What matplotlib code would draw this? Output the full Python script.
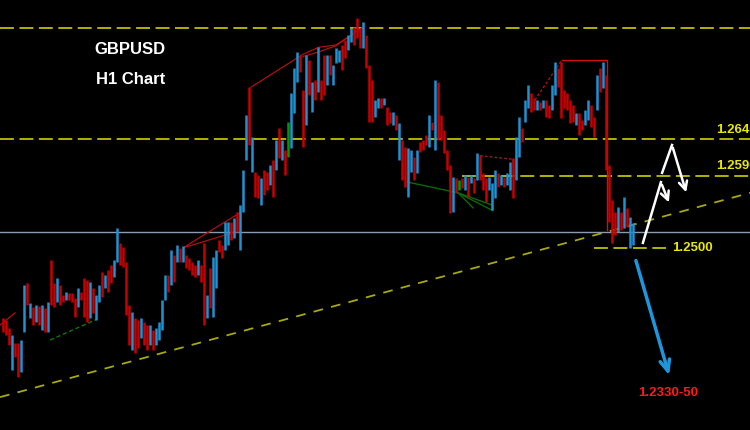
import matplotlib
matplotlib.use("Agg")
import matplotlib.pyplot as plt

plt.rcParams['lines.scale_dashes'] = False

# H1 bars (one entry per bar, oldest first)
highs = [1.2389, 1.2386, 1.2375, 1.2365, 1.2354, 1.2354, 1.2358, 1.2435, 1.2438, 1.2410,
         1.2404, 1.2407, 1.2406, 1.2407, 1.2403, 1.2411, 1.2470, 1.2438, 1.2445, 1.2435,
         1.2421, 1.2425, 1.2424, 1.2424, 1.2417, 1.2431, 1.2425, 1.2445, 1.2442, 1.2439,
         1.2431, 1.2421, 1.2435, 1.2453, 1.2449, 1.2456, 1.2463, 1.2470, 1.2515, 1.2494,
         1.2488, 1.2467, 1.2407, 1.2397, 1.2389, 1.2386, 1.2389, 1.2383, 1.2379, 1.2379,
         1.2372, 1.2375, 1.2383, 1.2414, 1.2449, 1.2449, 1.2484, 1.2477, 1.2491, 1.2487,
         1.2490, 1.2477, 1.2473, 1.2467, 1.2463, 1.2470, 1.2463, 1.2494, 1.2421, 1.2459,
         1.2474, 1.2484, 1.2498, 1.2491, 1.2523, 1.2523, 1.2523, 1.2529, 1.2537, 1.2547,
         1.2596, 1.2673, 1.2712, 1.2642, 1.2593, 1.2589, 1.2585, 1.2596, 1.2593, 1.2603,
         1.2610, 1.2638, 1.2655, 1.2638, 1.2624, 1.2663, 1.2704, 1.2739, 1.2761, 1.2757,
         1.2708, 1.2757, 1.2750, 1.2719, 1.2722, 1.2768, 1.2722, 1.2757, 1.2757, 1.2757,
         1.2743, 1.2767, 1.2764, 1.2771, 1.2778, 1.2785, 1.2795, 1.2796, 1.2809, 1.2795,
         1.2803, 1.2785, 1.2743, 1.2722, 1.2694, 1.2697, 1.2697, 1.2697, 1.2684, 1.2677,
         1.2677, 1.2673, 1.2662, 1.2638, 1.2628, 1.2627, 1.2624, 1.2614, 1.2624, 1.2635,
         1.2638, 1.2645, 1.2673, 1.2663, 1.2722, 1.2719, 1.2673, 1.2652, 1.2624, 1.2603,
         1.2586, 1.2585, 1.2582, 1.2585, 1.2589, 1.2586, 1.2589, 1.2585, 1.2620, 1.2617,
         1.2592, 1.2585, 1.2586, 1.2578, 1.2596, 1.2592, 1.2589, 1.2586, 1.2592, 1.2607,
         1.2613, 1.2642, 1.2670, 1.2655, 1.2694, 1.2715, 1.2704, 1.2697, 1.2694, 1.2691,
         1.2694, 1.2694, 1.2687, 1.2715, 1.2747, 1.2739, 1.2747, 1.2708, 1.2704, 1.2694,
         1.2687, 1.2676, 1.2676, 1.2666, 1.2680, 1.2694, 1.2687, 1.2670, 1.2729, 1.2739,
         1.2747, 1.2729, 1.2603, 1.2554, 1.2537, 1.2544, 1.2537, 1.2558, 1.2543, 1.2530,
         1.2522]
lows = [1.2369, 1.2365, 1.2351, 1.2316, 1.2334, 1.2306, 1.2313, 1.2369, 1.2407, 1.2389,
        1.2379, 1.2383, 1.2379, 1.2372, 1.2369, 1.2369, 1.2407, 1.2404, 1.2411, 1.2407,
        1.2411, 1.2414, 1.2414, 1.2411, 1.2390, 1.2404, 1.2414, 1.2390, 1.2383, 1.2389,
        1.2396, 1.2386, 1.2411, 1.2418, 1.2431, 1.2425, 1.2438, 1.2446, 1.2467, 1.2463,
        1.2460, 1.2393, 1.2351, 1.2344, 1.2340, 1.2347, 1.2361, 1.2351, 1.2344, 1.2351,
        1.2344, 1.2351, 1.2358, 1.2372, 1.2414, 1.2425, 1.2435, 1.2439, 1.2467, 1.2467,
        1.2467, 1.2459, 1.2456, 1.2449, 1.2446, 1.2449, 1.2439, 1.2379, 1.2389, 1.2403,
        1.2390, 1.2431, 1.2481, 1.2473, 1.2484, 1.2491, 1.2498, 1.2501, 1.2509, 1.2484,
        1.2537, 1.2610, 1.2631, 1.2593, 1.2558, 1.2557, 1.2547, 1.2561, 1.2568, 1.2575,
        1.2558, 1.2596, 1.2613, 1.2610, 1.2589, 1.2614, 1.2627, 1.2676, 1.2719, 1.2733,
        1.2628, 1.2659, 1.2701, 1.2677, 1.2694, 1.2705, 1.2694, 1.2701, 1.2715, 1.2729,
        1.2715, 1.2746, 1.2747, 1.2736, 1.2753, 1.2764, 1.2775, 1.2771, 1.2781, 1.2767,
        1.2767, 1.2739, 1.2663, 1.2663, 1.2670, 1.2683, 1.2683, 1.2687, 1.2659, 1.2662,
        1.2659, 1.2652, 1.2610, 1.2582, 1.2572, 1.2558, 1.2593, 1.2582, 1.2592, 1.2621,
        1.2624, 1.2631, 1.2628, 1.2652, 1.2624, 1.2638, 1.2638, 1.2620, 1.2596, 1.2536,
        1.2537, 1.2564, 1.2568, 1.2571, 1.2568, 1.2558, 1.2578, 1.2564, 1.2582, 1.2582,
        1.2568, 1.2551, 1.2568, 1.2540, 1.2557, 1.2572, 1.2575, 1.2572, 1.2575, 1.2568,
        1.2557, 1.2582, 1.2614, 1.2635, 1.2663, 1.2683, 1.2677, 1.2680, 1.2680, 1.2680,
        1.2683, 1.2670, 1.2669, 1.2680, 1.2701, 1.2712, 1.2669, 1.2683, 1.2680, 1.2662,
        1.2663, 1.2659, 1.2645, 1.2652, 1.2659, 1.2666, 1.2656, 1.2642, 1.2680, 1.2705,
        1.2711, 1.2596, 1.2523, 1.2494, 1.2505, 1.2509, 1.2512, 1.2515, 1.2516, 1.2487,
        1.2491]
direction = ("rrrbrrbbrb" "rbrbrbrrbr" "rbrrrbrrrb" "rbbrbrrbbr" "rrrbrrbrrb"
             "rbbbbrbrbr" "brrrrbrrbr" "bbrrbbrbrb" "bbrbrrbrrb" "rbrbrgbbbr"
             "rbrbrbrrbr" "bbbrrbbrrr" "brrrbbrbrr" "brbrrbbrbr" "rrbrbrrrrr"
             "brgrbrbrbr" "rrbbbrbrbb" "rbbrbbrrbr" "brrbbrrrrr" "rbrrbbrrbr"
             "brrrrbrbrbb")

colors = {"b": "#1f92d2", "r": "#c80000", "g": "#009a00"}

# levels and labels
top_level = 1.2795
lvl_2640 = 1.2639
lvl_2590 = 1.2588
grey_level = 1.2509
lvl_2500 = 1.2487
trend_x = [-1, 249]
trend_y = [1.2278, 1.2564]

fig = plt.figure(figsize=(7.5, 4.3), dpi=100, facecolor="black")
ax = fig.add_axes([0, 0, 1, 1])
ax.set_facecolor("black")
ax.set_xlim(-1, 249)
ax.set_ylim(1.2232, 1.2834)
ax.axis("off")

yellow = "#d0d000"
ax.axhline(top_level, color=yellow, lw=1.2, ls=(0, (10, 4)))
ax.axhline(lvl_2640, color=yellow, lw=1.2, ls=(0, (10, 4)))
ax.hlines(lvl_2590, 153, 249, color=yellow, lw=1.2, ls=(0, (10, 4)))
ax.axhline(grey_level, color="#8a9bb0", lw=1.0)
ax.hlines(lvl_2500, 197, 221, color=yellow, lw=1.2, ls=(0, (10, 4)))
ax.plot(trend_x, trend_y, color="#a8a810", lw=1.3, ls=(0, (7, 6)))

# pattern drawings
red_line = "#b01010"
ax.plot([-1, 4], [1.2379, 1.2396], color=red_line, lw=0.9)
ax.plot([79.3, 60, 77.3], [1.2537, 1.2487, 1.2509], color=red_line, lw=0.9)
ax.plot([82.7, 100, 105.3, 111, 119.7], [1.2712, 1.2758, 1.2768, 1.2771, 1.2795], color=red_line, lw=0.9)
ax.plot([100, 105, 111, 119.7], [1.2755, 1.2761, 1.2770, 1.2795], color=red_line, lw=0.9)
ax.plot([177.3, 186.3], [1.2694, 1.2750], color=red_line, lw=1.0, ls=(0, (2, 1.5)))
ax.plot([186.3, 201.3, 201.3], [1.2750, 1.2750, 1.2512], color="#d01010", lw=1.0)
ax.plot([159, 170, 170.3], [1.2616, 1.2611, 1.2590], color="#902020", lw=1.0, ls=(0, (2, 1.5)))
green_line = "#0a6a0a"
ax.plot([135, 151.7, 163.3], [1.2579, 1.2564, 1.2539], color=green_line, lw=1.0)
ax.plot([151.7, 156.7], [1.2564, 1.2543], color=green_line, lw=1.0)
ax.plot([151.7, 163], [1.2564, 1.2547], color=green_line, lw=1.0)
ax.plot([15.7, 31.3], [1.2358, 1.2387], color="#0a7a0a", lw=1.0, ls=(0, (3, 2)))

# candles
for i in range(len(highs)):
    ax.vlines(i, lows[i], highs[i], color=colors[direction[i]], lw=1.8)

# projected paths
ax.plot([213.3, 219.3], [1.2494, 1.2579], color="white", lw=1.8)
ax.annotate("", xy=(222.3, 1.2547), xytext=(219.3, 1.2579),
            arrowprops=dict(arrowstyle="->,head_length=0.6,head_width=0.3", color="white", lw=1.8))
ax.plot([219.7, 223], [1.2592, 1.2631], color="white", lw=1.8)
ax.annotate("", xy=(228, 1.2561), xytext=(223, 1.2631),
            arrowprops=dict(arrowstyle="->,head_length=0.6,head_width=0.3", color="white", lw=1.8))
ax.annotate("", xy=(222.3, 1.2305), xytext=(210.7, 1.2473),
            arrowprops=dict(arrowstyle="->,head_length=0.8,head_width=0.35", color="#1e96dc", lw=2.5))

font = "Liberation Sans"
ax.text(42.3, 1.2764, "GBPUSD", color="white", fontsize=12, fontweight="bold",
        family=font, ha="center", va="center")
ax.text(42.7, 1.2723, "H1 Chart", color="white", fontsize=12, fontweight="bold",
        family=font, ha="center", va="center")
ax.text(237.7, 1.2652, "1.2640", color="#e8e800", fontsize=9.5, fontweight="bold",
        family=font, ha="left", va="center")
ax.text(237.7, 1.2602, "1.2590", color="#e8e800", fontsize=9.5, fontweight="bold",
        family=font, ha="left", va="center")
ax.text(223, 1.2487, "1.2500", color="#e8e800", fontsize=9.5, fontweight="bold",
        family=font, ha="left", va="center")
ax.text(211.7, 1.2284, "1.2330-50", color="#ff1a1a", fontsize=9.5, fontweight="bold",
        family=font, ha="left", va="center")

fig.savefig("out.png", dpi=100, facecolor="black")
